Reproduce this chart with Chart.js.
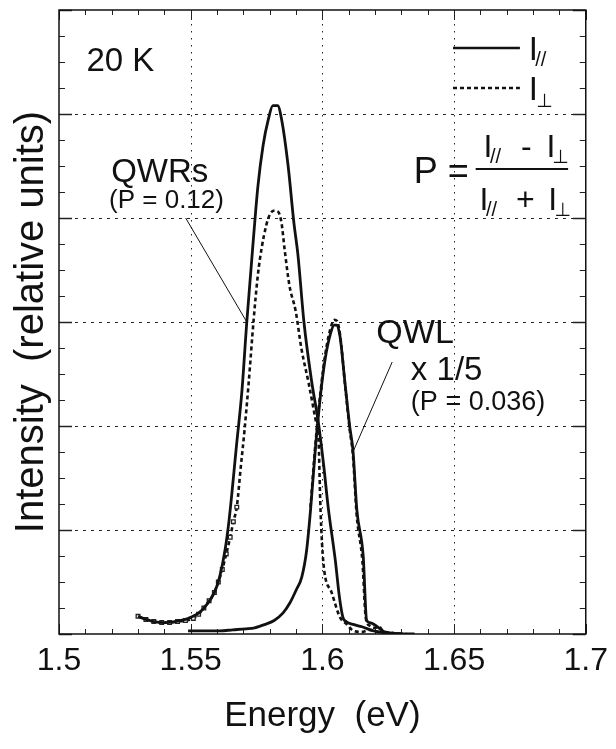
<!DOCTYPE html>
<html>
<head>
<meta charset="utf-8">
<script src="https://cdn.jsdelivr.net/npm/chart.js@4.4.1/dist/chart.umd.min.js"></script>
<style>
  html, body { margin: 0; padding: 0; background: #fff; }
  #wrap { width: 616px; height: 749px; }
</style>
</head>
<body>
<div id="wrap"><canvas id="myChart" width="616" height="749"></canvas></div>
<script>
// ---------------- DATA ----------------
const xTicks = [1.5, 1.55, 1.6, 1.65, 1.7];
const yGrid = [1, 2, 3, 4, 5];

// QWRs, I parallel (solid)
const qwrParE = [1.530, 1.533, 1.536, 1.540, 1.544, 1.548, 1.550, 1.553, 1.556, 1.559, 1.561, 1.563, 1.5646,
  1.5675, 1.5694, 1.5713, 1.5735, 1.5755, 1.5775, 1.5795, 1.5812, 1.5830, 1.5845, 1.5870, 1.5892, 1.5907,
  1.5930, 1.5958, 1.5985, 1.6005, 1.6022, 1.6049, 1.6065, 1.6078, 1.6090, 1.6120, 1.6150, 1.6195, 1.6250, 1.6300];
const qwrParI = [0.17, 0.14, 0.12, 0.11, 0.12, 0.14, 0.16, 0.20, 0.28, 0.40, 0.55, 0.80, 1.10,
  1.84, 2.32, 3.00, 3.70, 4.30, 4.70, 4.95, 5.08, 5.08, 4.95, 4.50, 3.95, 3.65,
  3.00, 2.45, 2.03, 1.62, 1.22, 0.71, 0.35, 0.16, 0.12, 0.09, 0.07, 0.03, 0.01, 0.0];

// QWRs, I perpendicular (dotted)
const qwrPerpE = [1.530, 1.533, 1.536, 1.539, 1.542, 1.545, 1.548, 1.551, 1.553, 1.555, 1.557, 1.559, 1.5605,
  1.562, 1.5635, 1.565, 1.5662, 1.5675, 1.5690, 1.5704, 1.5720, 1.5739, 1.5755, 1.5770, 1.5787, 1.5800,
  1.5815, 1.5832, 1.5845, 1.5857, 1.5875, 1.5899, 1.5920, 1.5948, 1.5975, 1.5985, 1.5993, 1.6004, 1.6035,
  1.6067, 1.6090, 1.6119, 1.6150, 1.6180, 1.6210, 1.6250, 1.6300];
const qwrPerpI = [0.17, 0.14, 0.12, 0.11, 0.11, 0.12, 0.13, 0.15, 0.19, 0.25, 0.32, 0.40, 0.50,
  0.62, 0.77, 0.93, 1.08, 1.22, 1.60, 1.95, 2.41, 3.02, 3.45, 3.72, 3.93, 4.03,
  4.07, 4.06, 3.95, 3.69, 3.35, 3.10, 2.75, 2.41, 2.05, 1.89, 1.19, 0.68, 0.40,
  0.16, 0.10, 0.03, 0.02, 0.04, 0.02, 0.01, 0.0];

// QWL x 1/5, I parallel (solid)
const qwlParE = [1.549, 1.555, 1.561, 1.566, 1.571, 1.5743, 1.578, 1.5817, 1.585, 1.5877, 1.590, 1.5922,
  1.594, 1.5955, 1.5974, 1.5993, 1.6011, 1.6030, 1.6045, 1.6055, 1.6067, 1.6086, 1.6104, 1.6116, 1.6131,
  1.6155, 1.6168, 1.6180, 1.6246, 1.6300, 1.6350];
const qwlParI = [0.03, 0.03, 0.03, 0.04, 0.05, 0.06, 0.09, 0.13, 0.20, 0.30, 0.42, 0.55,
  0.80, 1.19, 1.80, 2.30, 2.65, 2.88, 2.97, 2.97, 2.86, 2.41, 1.99, 1.77, 1.19,
  0.75, 0.13, 0.11, 0.01, 0.0, 0.0];

// QWL x 1/5, I perpendicular (dotted)
const qwlPerpE = [1.5955, 1.5974, 1.5993, 1.6011, 1.6030, 1.6045, 1.6055, 1.6067, 1.6086, 1.6104, 1.6116,
  1.6130, 1.6152, 1.6165, 1.6180, 1.6200, 1.6215, 1.6230, 1.6270, 1.6320];
const qwlPerpI = [1.22, 1.84, 2.33, 2.69, 2.93, 3.02, 3.01, 2.88, 2.40, 1.96, 1.72,
  1.15, 0.70, 0.15, 0.08, 0.06, 0.07, 0.03, 0.01, 0.0];

// ---------------- HELPERS ----------------
const FONT = "'Liberation Sans', Arial, sans-serif";
const SYM = "'DejaVu Sans', sans-serif";

function pts(es, is) {
    return es.map((e, i) => ({ x: e, y: is[i] }));
}

// labels placed in data units (energy, intensity)
const labels = [
    { t: "20 K", x: 1.5104, y: 5.41, s: 33 },
    { t: "QWRs", x: 1.5198, y: 4.35, s: 33 },
    { t: "(P = 0.12)", x: 1.5190, y: 4.10, s: 26 },
    { t: "QWL", x: 1.6205, y: 2.80, s: 34 },
    { t: "x 1/5", x: 1.6336, y: 2.44, s: 33 },
    { t: "(P = 0.036)", x: 1.6336, y: 2.15, s: 27 },
    // legend
    { t: "I", x: 1.6784, y: 5.52, s: 33 },
    { t: "//", x: 1.6808, y: 5.46, s: 20 },
    { t: "I", x: 1.6784, y: 5.135, s: 33 },
    { t: "⊥", x: 1.6812, y: 5.07, s: 19, f: SYM },
    // P = (I// - I⊥) / (I// + I⊥)
    { t: "P =", x: 1.6347, y: 4.337, s: 36 },
    { t: "I", x: 1.6612, y: 4.587, s: 32 },
    { t: "//", x: 1.6636, y: 4.529, s: 20 },
    { t: "-", x: 1.6754, y: 4.587, s: 32 },
    { t: "I", x: 1.6851, y: 4.587, s: 32 },
    { t: "⊥", x: 1.6873, y: 4.529, s: 19, f: SYM },
    { t: "I", x: 1.6597, y: 4.077, s: 32 },
    { t: "//", x: 1.6621, y: 4.019, s: 20 },
    { t: "+", x: 1.6735, y: 4.077, s: 32 },
    { t: "I", x: 1.6858, y: 4.077, s: 32 },
    { t: "⊥", x: 1.6881, y: 4.019, s: 19, f: SYM }
];

// thin leader lines and legend samples, also in data units
const lines = [
    { x1: 1.5481, y1: 4.00, x2: 1.5713, y2: 3.00, w: 1, dash: [] },
    { x1: 1.6265, y1: 2.615, x2: 1.6116, y2: 1.75, w: 1, dash: [] },
    { x1: 1.6496, y1: 5.635, x2: 1.6750, y2: 5.635, w: 2.6, dash: [] },
    { x1: 1.6496, y1: 5.25, x2: 1.6750, y2: 5.25, w: 2.6, dash: [4, 3] },
    { x1: 1.6582, y1: 4.471, x2: 1.6933, y2: 4.471, w: 2, dash: [] }
];

// ---------------- DECORATION PLUGIN ----------------
const decor = {
    id: "decor",
    beforeDatasetsDraw(chart) {
        const { ctx, chartArea: a, scales: { x, y } } = chart;
        ctx.save();
        ctx.strokeStyle = "#222";
        ctx.lineWidth = 1;

        // dotted grid
        ctx.setLineDash([1.5, 5.5]);
        xTicks.slice(1, -1).forEach(v => {
            const px = Math.round(x.getPixelForValue(v)) + 0.5;
            ctx.beginPath(); ctx.moveTo(px, a.top); ctx.lineTo(px, a.bottom); ctx.stroke();
        });
        ctx.setLineDash([3, 5]);
        yGrid.forEach(v => {
            const py = Math.round(y.getPixelForValue(v)) + 0.5;
            ctx.beginPath(); ctx.moveTo(a.left, py); ctx.lineTo(a.right, py); ctx.stroke();
        });
        ctx.setLineDash([]);

        // inward ticks
        const xStep = (xTicks[1] - xTicks[0]) / 5;
        for (let i = 0; i <= 20; i++) {
            const px = Math.round(x.getPixelForValue(xTicks[0] + i * xStep)) + 0.5;
            const len = i % 5 === 0 ? 10 : 5;
            ctx.beginPath();
            ctx.moveTo(px, a.bottom); ctx.lineTo(px, a.bottom - len);
            ctx.moveTo(px, a.top); ctx.lineTo(px, a.top + len);
            ctx.stroke();
        }
        for (let i = 0; i <= 24; i++) {
            const py = Math.round(y.getPixelForValue(i * 0.25)) + 0.5;
            const len = i % 4 === 0 ? 13 : 6;
            ctx.lineWidth = i % 4 === 0 ? 1.5 : 1;
            ctx.beginPath();
            ctx.moveTo(a.left, py); ctx.lineTo(a.left + len, py);
            ctx.moveTo(a.right, py); ctx.lineTo(a.right - len, py);
            ctx.stroke();
        }
        ctx.restore();
    },
    afterDatasetsDraw(chart) {
        const { ctx, chartArea: a, scales: { x, y } } = chart;
        ctx.save();

        // frame
        ctx.strokeStyle = "#111";
        ctx.lineWidth = 1.5;
        ctx.strokeRect(a.left, a.top, a.right - a.left, a.bottom - a.top);

        // lines
        lines.forEach(l => {
            ctx.lineWidth = l.w;
            ctx.setLineDash(l.dash);
            ctx.beginPath();
            ctx.moveTo(x.getPixelForValue(l.x1), y.getPixelForValue(l.y1));
            ctx.lineTo(x.getPixelForValue(l.x2), y.getPixelForValue(l.y2));
            ctx.stroke();
        });
        ctx.setLineDash([]);

        // text
        ctx.fillStyle = "#111";
        ctx.textAlign = "left";
        ctx.textBaseline = "alphabetic";
        labels.forEach(l => {
            ctx.font = l.s + "px " + (l.f || FONT);
            ctx.fillText(l.t, x.getPixelForValue(l.x), y.getPixelForValue(l.y));
        });
        ctx.restore();
    }
};

// ---------------- CHART ----------------
const solid = { borderColor: "#111", borderWidth: 2.8, pointRadius: 0, cubicInterpolationMode: "monotone", fill: false };
const dotted = { borderColor: "#111", borderWidth: 2.6, borderDash: [4, 3], pointRadius: 0, cubicInterpolationMode: "monotone", fill: false };

const ctx = document.getElementById("myChart").getContext("2d");
const chart = new Chart(ctx, {
    type: "line",
    data: {
        datasets: [
            { ...solid, label: "QWRs I//", data: pts(qwrParE, qwrParI) },
            { ...solid, label: "QWL I//", data: pts(qwlParE, qwlParI) },
            { ...dotted, label: "QWL I⊥", data: pts(qwlPerpE, qwlPerpI) },
            {
                ...dotted, label: "QWRs I⊥", data: pts(qwrPerpE, qwrPerpI),
                pointStyle: "rect",
                pointRadius: c => (c.raw && c.raw.x < 1.5676 ? 2.6 : 0),
                pointBorderWidth: 1.3,
                pointBorderColor: "#222",
                pointBackgroundColor: "#fff"
            }
        ]
    },
    options: {
        responsive: false,
        animation: false,
        devicePixelRatio: 1,
        layout: { padding: { top: 10, right: 21, left: 0, bottom: 0 } },
        plugins: { legend: { display: false }, tooltip: { enabled: false } },
        scales: {
            x: {
                type: "linear",
                min: 1.5,
                max: 1.7,
                afterBuildTicks: s => { s.ticks = xTicks.map(v => ({ value: v })); },
                afterFit: s => { s.height = 115; },
                grid: { display: false, drawTicks: false },
                border: { display: false },
                ticks: {
                    color: "#111",
                    font: { family: FONT, size: 32 },
                    padding: 8,
                    maxRotation: 0,
                    autoSkip: false,
                    callback: v => String(+Number(v).toFixed(2))
                },
                title: {
                    display: true,
                    text: "Energy  (eV)",
                    color: "#111",
                    font: { family: FONT, size: 35 },
                    padding: { top: 0, bottom: 12 }
                }
            },
            y: {
                min: 0,
                max: 6,
                afterFit: s => { s.width = 59; },
                grid: { display: false, drawTicks: false },
                border: { display: false },
                ticks: { display: false },
                title: {
                    display: true,
                    text: "Intensity  (relative units)",
                    color: "#111",
                    font: { family: FONT, size: 40 },
                    padding: { top: 8, bottom: 0 }
                }
            }
        }
    },
    plugins: [decor]
});
</script>
</body>
</html>
